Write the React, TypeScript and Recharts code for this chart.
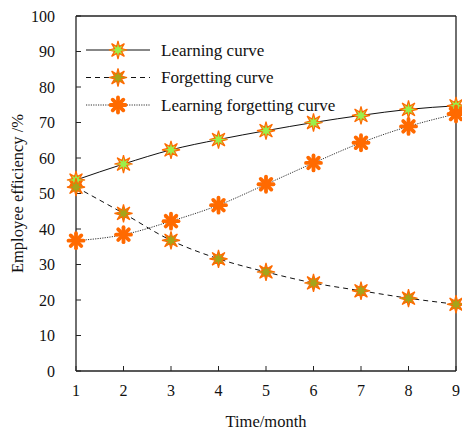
import React from 'react';
import { LineChart, Line, XAxis, YAxis, ReferenceLine } from 'recharts';

const months = [1, 2, 3, 4, 5, 6, 7, 8, 9];
const learning = [53.8, 58.3, 62.3, 65.2, 67.7, 70.0, 72.0, 73.7, 74.7];
const forgetting = [51.8, 44.4, 36.8, 31.6, 27.9, 24.8, 22.6, 20.5, 18.8];
const learnForget = [36.7, 38.4, 42.2, 46.7, 52.6, 58.6, 64.3, 68.9, 72.4];
const yTicks = [0, 10, 20, 30, 40, 50, 60, 70, 80, 90, 100];

const data = months.map((m, i) => ({
  month: m,
  learning: learning[i],
  forgetting: forgetting[i],
  learnForget: learnForget[i],
}));

const FONT = '"Liberation Serif", "DejaVu Serif", serif';
const ORANGE = '#ff6a00';

const starPath = (cx: number, cy: number, ro: number, ri: number) => {
  let d = '';
  for (let k = 0; k < 16; k++) {
    const r = k % 2 === 0 ? ro : ri;
    const a = -Math.PI / 2 + (k * Math.PI) / 8;
    d += (k === 0 ? 'M' : 'L') + (cx + r * Math.cos(a)).toFixed(2) + ',' + (cy + r * Math.sin(a)).toFixed(2);
  }
  return d + 'Z';
};

const Star = ({ cx, cy, fill }: { cx: number; cy: number; fill: string }) => (
  <path d={starPath(cx, cy, 9, 3.7)} fill={fill} stroke={ORANGE} strokeWidth={1.2} />
);

const SolidStar = ({ cx, cy }: { cx: number; cy: number }) => (
  <g stroke={ORANGE} strokeWidth={3.8} strokeLinecap="round">
    {[0, 1, 2, 3].map((k) => {
      const a = (k * Math.PI) / 4;
      const dx = 7.5 * Math.cos(a);
      const dy = 7.5 * Math.sin(a);
      return <line key={k} x1={cx - dx} y1={cy - dy} x2={cx + dx} y2={cy + dy} />;
    })}
  </g>
);

const series = [
  { key: 'learning', name: 'Learning curve', dash: undefined as string | undefined, color: '#111', width: 1, fill: '#9af04a' },
  { key: 'forgetting', name: 'Forgetting curve', dash: '5 4', color: '#111', width: 1, fill: '#a4a51a' },
  { key: 'learnForget', name: 'Learning forgetting curve', dash: '1.2 1.2', color: '#333', width: 1, fill: '' },
];

const marker = (fill: string) => (p: any) =>
  fill ? <Star key={p.index} cx={p.cx} cy={p.cy} fill={fill} /> : <SolidStar key={p.index} cx={p.cx} cy={p.cy} />;

const LegendBox = () => (
  <svg width={300} height={80} style={{ position: 'absolute', left: 86, top: 36, overflow: 'visible' }}>
    {series.map((s, i) => {
      const y = 14 + i * 27.5;
      return (
        <g key={s.key}>
          <line x1={0} y1={y} x2={64} y2={y} stroke={s.color} strokeWidth={s.width} strokeDasharray={s.dash} />
          {s.fill ? <Star cx={32} cy={y} fill={s.fill} /> : <SolidStar cx={32} cy={y} />}
          <text x={75} y={y + 5.5} fontSize={17} fontFamily={FONT} fill="#111">
            {s.name}
          </text>
        </g>
      );
    })}
  </svg>
);

export default function App() {
  return (
    <div style={{ position: 'absolute', left: 0, top: 0, width: 462, height: 431, background: '#fff' }}>
      <LineChart width={462} height={431} data={data} margin={{ top: 16, right: 6, bottom: 0, left: 16 }}>
        <XAxis
          dataKey="month"
          type="number"
          domain={[1, 9]}
          ticks={months}
          axisLine={{ stroke: '#222', strokeWidth: 1.3 }}
          tickLine={{ stroke: '#222' }}
          tickSize={-5}
          tickMargin={19}
          tick={{ fontSize: 16, fontFamily: FONT, fill: '#111' }}
          label={{ value: 'Time/month', position: 'insideBottom', offset: 4, fontSize: 16.5, fontFamily: FONT, fill: '#111' }}
          height={60}
        />
        <YAxis
          type="number"
          domain={[0, 100]}
          ticks={yTicks}
          interval={0}
          width={60}
          axisLine={{ stroke: '#222', strokeWidth: 1.3 }}
          tickLine={{ stroke: '#222' }}
          tickSize={-5}
          tickMargin={26}
          tick={{ fontSize: 16, fontFamily: FONT, fill: '#111' }}
          label={{ value: 'Employee efficiency /%', angle: -90, position: 'insideLeft', offset: 1, fontSize: 16.5, fontFamily: FONT, fill: '#111', style: { textAnchor: 'middle' } }}
        />
        <ReferenceLine y={100} stroke="#222" strokeWidth={1.3} />
        <ReferenceLine x={9} stroke="#222" strokeWidth={1.3} />
        {series.map((s) => (
          <Line
            key={s.key}
            dataKey={s.key}
            name={s.name}
            type="monotone"
            stroke={s.color}
            strokeWidth={s.width}
            strokeDasharray={s.dash}
            dot={marker(s.fill)}
            activeDot={false}
            isAnimationActive={false}
          />
        ))}
      </LineChart>
      <LegendBox />
    </div>
  );
}
